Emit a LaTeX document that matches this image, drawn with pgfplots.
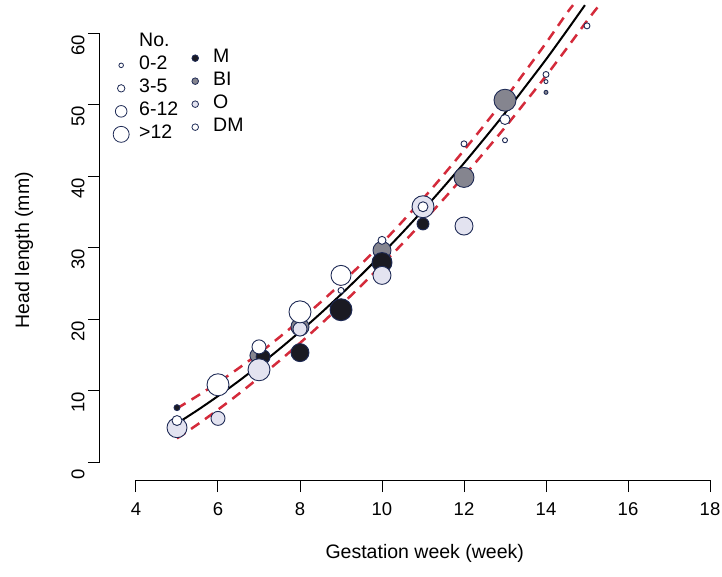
\documentclass[border=0pt]{standalone}
\usepackage{fontspec}
\setmainfont{Liberation Sans}
\usepackage{pgfplots}
\usepackage{pgfplotstable}
\pgfplotsset{compat=1.18}

\definecolor{edge}{HTML}{1E2A55}
\definecolor{Mfill}{HTML}{1A1A22}
\definecolor{BIfill}{HTML}{85858F}
\definecolor{Ofill}{HTML}{E3E3F0}
\definecolor{DMfill}{HTML}{FFFFFF}
\definecolor{bandred}{HTML}{D42A3A}

% measurements by group: week, head length, marker radius
\pgfplotstableread{
x y r
6.95 14.9 7
8.00 18.9 9
10.0 29.6 9
12.0 39.8 10
13.0 50.6 11
14.0 51.7 2
}\BIdata
\pgfplotstableread{
x y r
5.00 7.6 3
7.10 14.7 7
8.00 15.3 9
9.00 21.3 11
10.0 27.9 10
11.0 33.3 6
}\Mdata
\pgfplotstableread{
x y r
5.00 4.8 10
6.00 6.1 7
7.00 12.9 11
8.00 18.6 7
10.0 26.1 9
11.0 35.7 11
12.0 33.0 9
}\Odata
\pgfplotstableread{
x y r
5.00 5.8 5
6.00 10.8 11
7.00 16.1 7
8.00 21.0 11
9.00 26.1 10
9.00 24.0 3
10.0 31.0 4
11.0 35.7 5
12.0 44.5 3
13.0 47.9 5
13.0 45.0 2.5
14.0 54.2 3
14.0 53.2 2
15.0 61.0 3
}\DMdata

\pgfplotsset{
  bubbles/.style={forget plot, scatter, only marks, mark=*,
    point meta=\thisrow{r},
    scatter/use mapped color={draw=edge, fill=#1},
    mark options={line width=0.9pt},
    visualization depends on={\thisrow{r}\as\rr},
    scatter/@pre marker code/.append style={/tikz/mark size=\rr}},
  sizekey/.style={legend image code/.code={%
    \path[draw=none, fill=none] (0pt,-8pt) rectangle (16pt,8pt);
    \draw[draw=edge, line width=0.8pt, fill=white] plot[mark=*, mark size=#1] coordinates {(8pt,0pt)};}},
  groupkey/.style={legend image code/.code={%
    \path[draw=none, fill=none] (0pt,-8pt) rectangle (16pt,8pt);
    \draw[draw=edge, line width=0.8pt, fill=#1] plot[mark=*, mark size=3.3] coordinates {(8pt,0pt)};}},
  keybox/.style={legend style={anchor=north west,
    draw=none, fill=none, inner sep=0pt, row sep=3pt, column sep=8pt,
    font=\fontsize{19.5}{21}\selectfont,
    nodes={inner sep=2pt, text height=12pt, text depth=4pt}},
    legend cell align=left},
}

\begin{document}
\begin{tikzpicture}
\path[use as bounding box] (-136pt,-114pt) rectangle (586pt,462pt);
\begin{axis}[
  at={(0pt,0pt)}, anchor=south west,
  scale only axis, width=574pt, height=429pt,
  xmin=4, xmax=18, ymin=0, ymax=60,
  clip=false,
  axis x line*=bottom, axis y line*=left,
  axis x line shift=18pt, axis y line shift=36pt,
  axis line style={black, line width=1pt},
  xtick={4,6,...,18}, ytick={0,10,...,60},
  minor tick num=0,
  tick align=outside, major tick length=12pt,
  tick style={black, line width=1pt},
  /pgf/number format/assume math mode=true,
  tick label style={font=\fontsize{18.5}{20}\selectfont},
  xticklabel style={yshift=-7pt},
  yticklabel style={rotate=90, anchor=south, xshift=-12pt},
  xlabel={Gestation week (week)},
  ylabel={Head length (mm)},
  xlabel style={at={(axis description cs:0.503,-0.212)}, anchor=center, font=\fontsize{19.5}{22}\selectfont},
  ylabel style={at={(axis description cs:-0.195,0.494)}, anchor=center, rotate=0, font=\fontsize{19.5}{22}\selectfont},
  keybox,
  legend style={at={(axis description cs:-0.0401,1.002)}},
]
\addplot[bubbles=BIfill] table[x=x, y=y] {\BIdata};
\addplot[bubbles=Mfill] table[x=x, y=y] {\Mdata};
\addplot[bubbles=Ofill] table[x=x, y=y] {\Odata};
\addplot[bubbles=DMfill] table[x=x, y=y] {\DMdata};

% fitted curve
\addplot[forget plot, black, line width=2pt, smooth] coordinates {
(5,5.4) (5.5,7.25) (6,9.22) (6.5,11.30) (7,13.50) (7.5,15.81) (8,18.24)
(8.5,20.78) (9,23.44) (9.5,26.21) (10,29.1) (10.5,32.10) (11,35.22)
(11.5,38.45) (12,41.8) (12.5,45.26) (13,48.8) (13.5,52.53) (14,56.3)
(14.5,60.26) (14.95,63.9)};
% confidence band
\addplot[forget plot, bandred, line width=2.5pt, dash pattern=on 10pt off 7pt, smooth] coordinates {
(5,7.5) (5.5,9.25) (6,11.12) (6.5,13.10) (7,15.20) (7.5,17.46) (8,19.84)
(8.5,22.33) (9,24.94) (9.5,27.71) (10,30.6) (10.5,33.65) (11,36.82)
(11.5,40.15) (12,43.6) (12.5,47.16) (13,50.8) (13.5,54.68) (14,58.6)
(14.5,62.71) (14.66,63.9)};
\addplot[forget plot, bandred, line width=2.5pt, dash pattern=on 10pt off 7pt, smooth] coordinates {
(5,3.3) (5.5,5.25) (6,7.32) (6.5,9.50) (7,11.80) (7.5,14.16) (8,16.64)
(8.5,19.23) (9,21.94) (9.5,24.71) (10,27.6) (10.5,30.55) (11,33.62)
(11.5,36.75) (12,40.0) (12.5,43.36) (13,46.8) (13.5,50.38) (14,54.0)
(14.5,57.81) (15,61.7) (15.3,63.9)};

\addlegendimage{empty legend}\addlegendentry{No.}
\addlegendimage{sizekey=2.3}\addlegendentry{0-2}
\addlegendimage{sizekey=3.7}\addlegendentry{3-5}
\addlegendimage{sizekey=5.8}\addlegendentry{6-12}
\addlegendimage{sizekey=8}\addlegendentry{>12}
\end{axis}

\begin{axis}[
  at={(0pt,0pt)}, anchor=south west,
  scale only axis, width=574pt, height=429pt,
  xmin=4, xmax=18, ymin=0, ymax=60,
  hide axis,
  keybox,
  legend style={at={(axis description cs:0.0889,0.9651)}},
]
\addlegendimage{groupkey=Mfill}\addlegendentry{M}
\addlegendimage{groupkey=BIfill}\addlegendentry{BI}
\addlegendimage{groupkey=Ofill}\addlegendentry{O}
\addlegendimage{groupkey=DMfill}\addlegendentry{DM}
\end{axis}
\end{tikzpicture}
\end{document}
